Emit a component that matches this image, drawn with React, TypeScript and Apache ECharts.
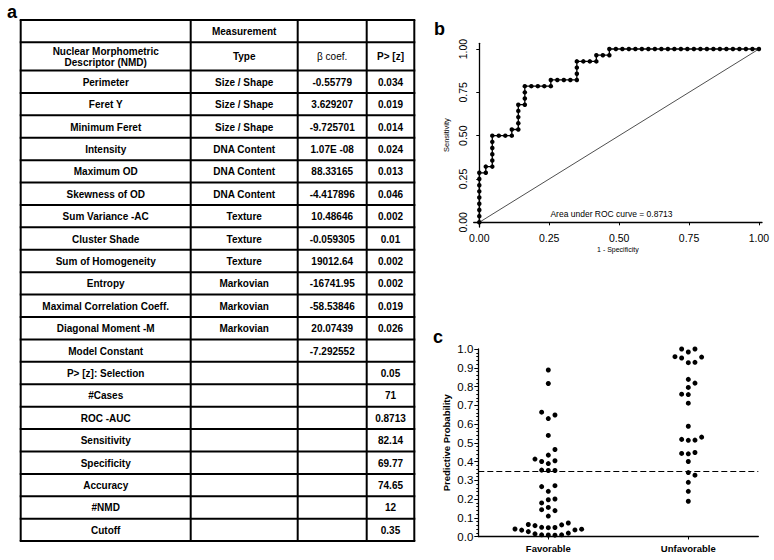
import React, { useEffect, useRef } from "react";
import * as echarts from "echarts";

// ---------- Panel a: table ----------
const headerTopRow = ["", "Measurement", "", ""];
const headerRow = ["Nuclear Morphometric\nDescriptor (NMD)", "Type", "β coef.", "P> [z]"];
const descriptors = [
  "Perimeter", "Feret Y", "Minimum Feret", "Intensity", "Maximum OD", "Skewness of OD",
  "Sum Variance -AC", "Cluster Shade", "Sum of Homogeneity", "Entropy",
  "Maximal Correlation Coeff.", "Diagonal Moment -M", "Model Constant", "P> [z]: Selection",
  "#Cases", "ROC -AUC", "Sensitivity", "Specificity", "Accuracy", "#NMD", "Cutoff",
];
const measurementTypes = [
  "Size / Shape", "Size / Shape", "Size / Shape", "DNA Content", "DNA Content", "DNA Content",
  "Texture", "Texture", "Texture", "Markovian", "Markovian", "Markovian",
  "", "", "", "", "", "", "", "", "",
];
const betaCoefs = [
  "-0.55779", "3.629207", "-9.725701", "1.07E -08", "88.33165", "-4.417896",
  "10.48646", "-0.059305", "19012.64", "-16741.95", "-58.53846", "20.07439",
  "-7.292552", "", "", "", "", "", "", "", "",
];
const pValues = [
  "0.034", "0.019", "0.014", "0.024", "0.013", "0.046",
  "0.002", "0.01", "0.002", "0.002", "0.019", "0.026",
  "", "0.05", "71", "0.8713", "82.14", "69.77", "74.65", "12", "0.35",
];

// ---------- Panel b: ROC curve ----------
const rocTicks = [0, 0.25, 0.5, 0.75, 1];
const rocNegatives = 43;
const rocPositives = 28;
const rocFalsePositives = [
  0, 0, 0, 0, 0, 0, 0, 0, 0, 1, 1, 2, 2, 2, 2, 2, 2, 3, 4, 5, 5, 6, 6, 6, 6, 6,
  7, 7, 7, 7, 8, 9, 10, 11, 11, 12, 13, 14, 15, 15, 15, 15, 16, 17, 18, 18, 19, 20, 20,
  21, 22, 23, 24, 25, 26, 27, 28, 29, 30, 31, 32, 33, 34, 35, 36, 37, 38, 39, 40, 41, 42, 43,
];
const rocTruePositives = [
  0, 1, 2, 3, 4, 5, 6, 7, 8, 8, 9, 9, 10, 11, 12, 13, 14, 14, 14, 14, 15, 15, 16, 17, 18, 19,
  19, 20, 21, 22, 22, 22, 22, 22, 23, 23, 23, 23, 23, 24, 25, 26, 26, 26, 26, 27, 27, 27, 28,
  28, 28, 28, 28, 28, 28, 28, 28, 28, 28, 28, 28, 28, 28, 28, 28, 28, 28, 28, 28, 28, 28, 28,
];
const aucLabel = "Area under ROC curve = 0.8713";

// ---------- Panel c: predictive probability ----------
const outcomeGroups = ["Favorable", "Unfavorable"];
const favorableProb = [
  0.888, 0.816, 0.663, 0.629, 0.648, 0.539, 0.464, 0.434, 0.413, 0.4, 0.389, 0.404,
  0.354, 0.352, 0.352, 0.266, 0.271, 0.241, 0.179, 0.196, 0.2, 0.143, 0.155, 0.138, 0.109,
  0.064, 0.058, 0.049, 0.047, 0.048, 0.062, 0.072, 0.04, 0.034, 0.035, 0.039,
  0.026, 0.014, 0.009, 0.008, 0.007, 0.009, 0.018,
];
const favorableSlot = [
  0, 0, -1, 0, 1, 0, 1, 0, -2, -1, 0, 1,
  -1, 0, 1, -1, 1, 0, -1, 0, 1, -1, 0, 1, 0,
  -3, -2, -1, 0, 1, 2, 3, -5, -4, 4, 5,
  -3, -2, -1, 0, 1, 2, 3,
];
const unfavorableProb = [
  1.0, 0.984, 1.0, 0.959, 0.952, 0.927, 0.929, 0.957, 0.838, 0.818, 0.795, 0.759, 0.757, 0.711,
  0.588, 0.518, 0.513, 0.514, 0.53, 0.443, 0.441, 0.448, 0.4, 0.341, 0.327, 0.289, 0.241, 0.188,
];
const unfavorableSlot = [
  -1, 0, 1, -2, -1, 0, 1, 2, 0, 1, 0, -1, 0, 0,
  0, -1, 0, 1, 2, -1, 0, 1, 0, 0, 1, 0, 0, 0,
];
const cutoff = 0.35;

const FONT = '"Liberation Sans", Arial, Helvetica, sans-serif';

function buildTable(): any[] {
  const colX = [20.7, 190.7, 297.7, 366.7, 414.3];
  const rowY = [20, 42.3, 70.5];
  const rowH = 22.41;
  for (let i = 0; i < descriptors.length; i++) rowY.push(70.5 + rowH * (i + 1));
  const els: any[] = [];
  const bottom = rowY[rowY.length - 1];
  rowY.forEach((y) => {
    els.push({
      type: "line",
      shape: { x1: colX[0] - 1, y1: y, x2: colX[4] + 1, y2: y },
      style: { stroke: "#000", lineWidth: 2 },
    });
  });
  colX.forEach((x) => {
    els.push({
      type: "line",
      shape: { x1: x, y1: rowY[0], x2: x, y2: bottom },
      style: { stroke: "#000", lineWidth: 2 },
    });
  });
  const rows: string[][] = [headerTopRow, headerRow];
  descriptors.forEach((d, i) => rows.push([d, measurementTypes[i], betaCoefs[i], pValues[i]]));
  rows.forEach((row, r) => {
    const cy = (rowY[r] + rowY[r + 1]) / 2 + 0.5;
    row.forEach((txt, c) => {
      if (!txt) return;
      const cx = (colX[c] + colX[c + 1]) / 2;
      els.push({
        type: "text",
        x: cx,
        y: cy,
        style: {
          text: txt,
          fill: "#000",
          fontFamily: FONT,
          fontSize: 10,
          fontWeight: txt === "β coef." ? "normal" : "bold",
          lineHeight: 11,
          align: "center",
          verticalAlign: "middle",
          textAlign: "center",
          textVerticalAlign: "middle",
        },
      });
    });
  });
  return els;
}

function panelLabel(t: string, x: number, y: number) {
  return {
    type: "text",
    x,
    y,
    style: {
      text: t,
      fill: "#000",
      fontFamily: FONT,
      fontSize: 18,
      fontWeight: "bold",
      align: "left",
      verticalAlign: "middle",
      textAlign: "left",
      textVerticalAlign: "middle",
    },
  };
}

export default function App() {
  const ref = useRef<HTMLDivElement>(null);
  useEffect(() => {
    if (!ref.current) return;
    const chart = echarts.init(ref.current, undefined, { renderer: "svg" });
    const slotStep = 0.0476;
    const rocData = rocFalsePositives.map((fp, i) => [fp / rocNegatives, rocTruePositives[i] / rocPositives]);
    const favData = favorableProb.map((p, i) => [0.5 + favorableSlot[i] * slotStep, p]);
    const unfData = unfavorableProb.map((p, i) => [1.5 + unfavorableSlot[i] * slotStep, p]);

    const option: any = {
      animation: false,
      backgroundColor: "#fff",
      textStyle: { fontFamily: FONT, color: "#000" },
      grid: [
        { left: 473.7, top: 43.3, width: 288.3, height: 183.7, containLabel: false, outerBoundsMode: "none" },
        { left: 478.3, top: 349, width: 280, height: 187.5, containLabel: false, outerBoundsMode: "none" },
      ],
      xAxis: [
        {
          type: "value",
          gridIndex: 0,
          min: -0.02,
          max: 1.011,
          splitLine: { show: false },
          axisLine: { show: true, lineStyle: { color: "#000", width: 1.3 } },
          axisTick: { show: true, customValues: rocTicks, length: 3, lineStyle: { color: "#000" } },
          axisLabel: {
            customValues: rocTicks,
            formatter: (v: number) => v.toFixed(2),
            fontSize: 10.5,
            color: "#000",
            margin: 5,
            fontFamily: FONT,
          },
          name: "1 - Specificity",
          nameLocation: "middle",
          nameGap: 19,
          nameTextStyle: { fontSize: 7, color: "#000", fontFamily: FONT },
        },
        {
          type: "value",
          gridIndex: 1,
          min: 0,
          max: 2,
          splitLine: { show: false },
          axisLine: { show: true, lineStyle: { color: "#000", width: 1.3 } },
          axisTick: { show: true, customValues: [0.5, 1.5], length: 3, lineStyle: { color: "#000" } },
          axisLabel: {
            customValues: [0.5, 1.5],
            formatter: (v: number) => outcomeGroups[Math.floor(v)],
            fontSize: 9.5,
            fontWeight: "bold",
            color: "#000",
            margin: 7,
            fontFamily: FONT,
          },
        },
      ],
      yAxis: [
        {
          type: "value",
          gridIndex: 0,
          min: -0.027,
          max: 1.033,
          splitLine: { show: false },
          axisLine: { show: true, lineStyle: { color: "#000", width: 1.3 } },
          axisTick: { show: true, customValues: rocTicks, length: 3, lineStyle: { color: "#000" } },
          axisLabel: {
            customValues: rocTicks,
            rotate: 90,
            formatter: (v: number) => v.toFixed(2),
            fontSize: 10.5,
            color: "#000",
            margin: 5,
            fontFamily: FONT,
          },
          name: "Sensitivity",
          nameLocation: "middle",
          nameRotate: 90,
          nameGap: 23,
          nameTextStyle: { fontSize: 7.5, color: "#000", fontFamily: FONT },
        },
        {
          type: "value",
          gridIndex: 1,
          min: 0,
          max: 1,
          interval: 0.1,
          splitLine: { show: false },
          axisLine: { show: true, lineStyle: { color: "#000", width: 1.3 } },
          axisTick: { show: true, length: 4, lineStyle: { color: "#000" } },
          minorTick: { show: true, splitNumber: 5, length: 2, lineStyle: { color: "#000" } },
          axisLabel: {
            formatter: (v: number) => v.toFixed(1),
            fontSize: 11.5,
            color: "#000",
            margin: 5,
            fontFamily: FONT,
          },
          name: "Predictive Probability",
          nameLocation: "middle",
          nameRotate: 90,
          nameGap: 27,
          nameTextStyle: { fontSize: 9.5, fontWeight: "bold", color: "#000", fontFamily: FONT },
        },
      ],
      series: [
        {
          type: "line",
          xAxisIndex: 0,
          yAxisIndex: 0,
          data: [[0, 0], [1, 1]],
          symbol: "none",
          lineStyle: { color: "#222", width: 0.8 },
          silent: true,
        },
        {
          type: "line",
          xAxisIndex: 0,
          yAxisIndex: 0,
          data: rocData,
          symbol: "circle",
          symbolSize: 4.5,
          showSymbol: true,
          showAllSymbol: true,
          clip: false,
          itemStyle: { color: "#000", opacity: 1 },
          lineStyle: { color: "#000", width: 1.3 },
          silent: true,
        },
        {
          type: "scatter",
          xAxisIndex: 1,
          yAxisIndex: 1,
          data: favData,
          symbol: "circle",
          symbolSize: 5,
          clip: false,
          itemStyle: { color: "#000", opacity: 1 },
          silent: true,
          markLine: {
            silent: true,
            symbol: ["none", "none"],
            label: { show: false },
            lineStyle: { color: "#000", width: 1.2, type: [6, 3] },
            data: [{ yAxis: cutoff }],
          },
        },
        {
          type: "scatter",
          xAxisIndex: 1,
          yAxisIndex: 1,
          data: unfData,
          symbol: "circle",
          symbolSize: 5,
          clip: false,
          itemStyle: { color: "#000", opacity: 1 },
          silent: true,
        },
      ],
      graphic: [
        ...buildTable(),
        panelLabel("a", 7, 12),
        panelLabel("b", 434, 29),
        panelLabel("c", 433, 336.5),
        {
          type: "text",
          x: 611.5,
          y: 214,
          style: {
            text: aucLabel,
            fill: "#000",
            fontFamily: FONT,
            fontSize: 8.5,
            align: "center",
            verticalAlign: "middle",
            textAlign: "center",
            textVerticalAlign: "middle",
          },
        },
      ],
    };
    chart.setOption(option);
    return () => chart.dispose();
  }, []);
  return (
    <div
      ref={ref}
      style={{ position: "fixed", left: 0, top: 0, width: 774, height: 560, background: "#fff" }}
    />
  );
}
